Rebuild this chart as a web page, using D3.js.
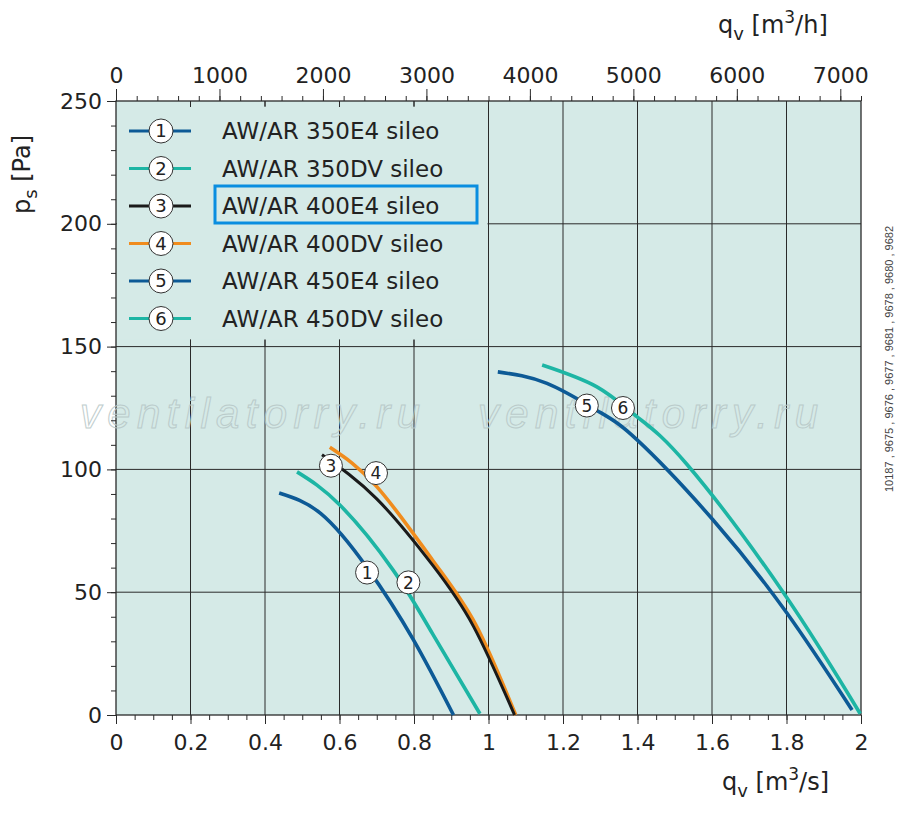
<!DOCTYPE html>
<html><head><meta charset="utf-8">
<script src="https://cdn.jsdelivr.net/npm/d3@7"></script>
<style>body{margin:0;background:#fff}svg{font-family:"DejaVu Sans",sans-serif}</style>
</head><body>
<svg id="c" width="900" height="820"></svg>
<script>
const seriesNames = ["AW/AR 350E4 sileo","AW/AR 350DV sileo","AW/AR 400E4 sileo","AW/AR 400DV sileo","AW/AR 450E4 sileo","AW/AR 450DV sileo"];
const seriesColors = ["#0d5a96","#1db5a4","#1a1a1a","#f08c1e","#0d5a96","#1db5a4"];
const curve1 = [[0.438,90.4],[0.55,82],[0.674,60],[0.797,31],[0.906,0]];
const curve2 = [[0.486,99],[0.601,85.5],[0.744,59],[0.85,33],[0.977,0.5]];
const curve3 = [[0.553,106],[0.70,88],[0.85,61],[0.96,36],[1.070,0]];
const curve4 = [[0.574,109],[0.70,93],[0.85,63],[0.965,37],[1.073,0]];
const curve5 = [[1.025,139.7],[1.157,135],[1.291,124],[1.399,112],[1.603,79.4],[1.801,41.5],[1.976,2]];
const curve6 = [[1.144,142.5],[1.291,133.6],[1.399,121.4],[1.533,102],[1.791,50],[1.998,0.5]];
const curves = [curve1,curve2,curve3,curve4,curve5,curve6];
const labelPos = [[0.674,58],[0.785,54],[0.577,101.5],[0.698,98.5],[1.264,126],[1.361,125]];
const xTicks = [0,0.2,0.4,0.6,0.8,1,1.2,1.4,1.6,1.8,2];
const yTicks = [0,50,100,150,200,250];
const topTicks = [0,1000,2000,3000,4000,5000,6000,7000];

const svg = d3.select("#c");
const L=116,R=861,T=101,B=715;
const x = d3.scaleLinear().domain([0,2]).range([L,R]);
const y = d3.scaleLinear().domain([0,250]).range([B,T]);
const xh = d3.scaleLinear().domain([0,7200]).range([L,R]);
const FF="'DejaVu Sans',sans-serif";

svg.append("rect").attr("x",L).attr("y",T).attr("width",R-L).attr("height",B-T).attr("fill","#d5eae7");
svg.append("g").selectAll("line").data(xTicks.slice(1,-1)).join("line")
 .attr("x1",d=>x(d)).attr("x2",d=>x(d)).attr("y1",T).attr("y2",B).attr("stroke","#2a2a2a").attr("stroke-width",1);
svg.append("g").selectAll("line").data(yTicks.slice(1,-1)).join("line")
 .attr("y1",d=>y(d)).attr("y2",d=>y(d)).attr("x1",L).attr("x2",R).attr("stroke","#2a2a2a").attr("stroke-width",1);
svg.append("rect").attr("x",L+1).attr("y",T+5).attr("width",x(1)-L-2).attr("height",y(150)-T-12).attr("fill","#d5eae7");
svg.append("g").selectAll("line").data([0.2,0.4,0.6,0.8]).join("line")
 .attr("x1",d=>x(d)).attr("x2",d=>x(d)).attr("y1",T).attr("y2",T+6).attr("stroke","#2a2a2a");
svg.append("g").selectAll("line").data([0.2,0.4,0.6,0.8]).join("line")
 .attr("x1",d=>x(d)).attr("x2",d=>x(d)).attr("y1",y(150)-7).attr("y2",y(150)).attr("stroke","#2a2a2a");
svg.append("rect").attr("x",L).attr("y",T).attr("width",R-L).attr("height",B-T).attr("fill","none").attr("stroke","#2a2a2a").attr("stroke-width",1.3);

[80,478].forEach(px=>{
 svg.append("text").attr("x",px).attr("y",428).text("ventilatorry.ru").attr("font-size",42).attr("font-style","italic")
  .attr("font-family","'Liberation Sans',Arial,sans-serif")
  .attr("textLength",340).attr("lengthAdjust","spacing")
  .attr("fill","none").attr("stroke","#b8c8c8").attr("stroke-width",1).attr("opacity",0.9);
});

const fs=22;
const styleTicks=g=>{g.select(".domain").remove();g.selectAll("line").attr("stroke","#2a2a2a");g.selectAll("text").attr("font-size",fs).attr("fill","#222").attr("font-family",FF);};
svg.append("g").attr("transform",`translate(0,${B})`).call(d3.axisBottom(x).tickValues(d3.range(0,2.001,0.05)).tickSize(5).tickFormat("")).call(styleTicks);
svg.append("g").attr("transform",`translate(0,${B})`).call(d3.axisBottom(x).tickValues(xTicks).tickSize(9).tickPadding(10).tickFormat(d=>d===0||d===1||d===2?d:d3.format(".1f")(d))).call(styleTicks);
svg.append("g").attr("transform",`translate(${L},0)`).call(d3.axisLeft(y).tickValues(d3.range(0,251,10)).tickSize(5).tickFormat("")).call(styleTicks);
svg.append("g").attr("transform",`translate(${L},0)`).call(d3.axisLeft(y).tickValues(yTicks).tickSize(9).tickPadding(5)).call(styleTicks);
svg.append("g").attr("transform",`translate(0,${T})`).call(d3.axisTop(xh).tickValues(d3.range(0,7201,200)).tickSize(5).tickFormat("")).call(styleTicks);
svg.append("g").attr("transform",`translate(0,${T})`).call(d3.axisTop(xh).tickValues(topTicks).tickSize(12).tickPadding(6).tickFormat(d3.format("d"))).call(styleTicks);

function title(tx,sub,rest,sup,tail){
 const t=svg.append("text").attr("transform",tx).attr("font-size",24).attr("fill","#222").attr("font-family",FF);
 t.append("tspan").text(sub[0]);t.append("tspan").text(sub[1]).attr("font-size",18).attr("dy",7);
 t.append("tspan").text(rest).attr("dy",-7);
 if(sup){t.append("tspan").text(sup).attr("font-size",17).attr("dy",-10);t.append("tspan").text(tail).attr("dy",10);}
}
title("translate(718,33)",["q","v"],"  [m","3","/h]");
title("translate(722,790)",["q","v"],"  [m","3","/s]");
title("translate(30,214) rotate(-90)",["p","s"],"  [Pa]");

svg.append("text").attr("transform","translate(893,492) rotate(-90)").attr("font-size",11).attr("fill","#444")
 .attr("font-family","'Liberation Sans',Arial,sans-serif")
 .text("10187  ,  9675  ,  9676  ,  9677  ,  9681  ,  9678  ,  9680  ,  9682");

const line = d3.line().x(d=>x(d[0])).y(d=>y(d[1])).curve(d3.curveNatural);
[0,1,3,2,4,5].forEach(i=>{
 svg.append("path").attr("d",line(curves[i])).attr("fill","none").attr("stroke",seriesColors[i]).attr("stroke-width",i===2?3:3.6);
});
labelPos.forEach((p,i)=>{
 const g=svg.append("g").attr("transform",`translate(${x(p[0])},${y(p[1])})`);
 g.append("circle").attr("r",11.5).attr("fill","#fff").attr("stroke","#333").attr("stroke-width",1);
 g.append("text").attr("text-anchor","middle").attr("dy","0.36em").attr("font-size",17).attr("fill","#222").text(i+1);
});

seriesNames.forEach((n,i)=>{
 const cy=131+i*37.5, cx=161;
 svg.append("line").attr("x1",129).attr("x2",191).attr("y1",cy).attr("y2",cy).attr("stroke",seriesColors[i]).attr("stroke-width",3);
 svg.append("circle").attr("cx",cx).attr("cy",cy).attr("r",12).attr("fill","#fff").attr("stroke","#333").attr("stroke-width",1);
 svg.append("text").attr("x",cx).attr("y",cy).attr("dy","0.36em").attr("text-anchor","middle").attr("font-size",18).attr("fill","#222").text(i+1);
 svg.append("text").attr("x",222).attr("y",cy).attr("dy","0.36em").attr("font-size",23).attr("fill","#222").text(n);
});
svg.append("rect").attr("x",215).attr("y",186).attr("width",262).attr("height",37).attr("fill","none").attr("stroke","#0a8ee0").attr("stroke-width",3);
</script>
</body></html>
